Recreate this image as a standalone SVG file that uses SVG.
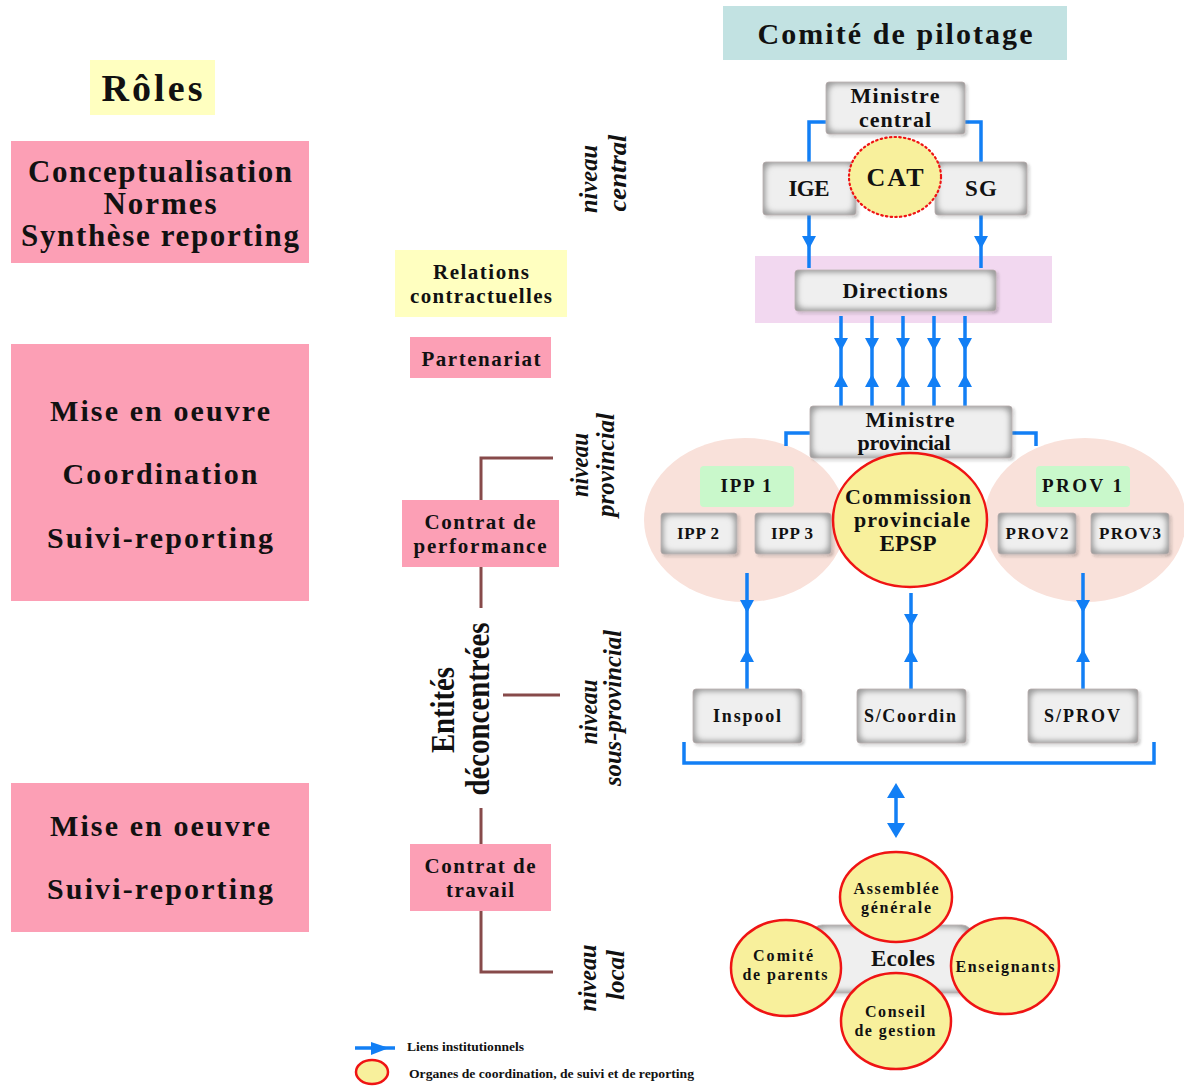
<svg xmlns="http://www.w3.org/2000/svg" xmlns:xlink="http://www.w3.org/1999/xlink" width="1184" height="1086" viewBox="0 0 1184 1086">
<defs>
<style>
text{font-family:"Liberation Serif","Times New Roman",serif;font-weight:bold;fill:#111;text-anchor:middle}
.pink{fill:#fc9fb5}
.yel{fill:#ffffc0}
.gb{fill:#9c9c9c;stroke:#b5aaaa;stroke-width:0.8;filter:url(#bev)}
.org{fill:#f8f09c;stroke:#ef1414;stroke-width:2.5}
.blue{stroke:#127ff5;stroke-width:3.5;fill:none}
.brown{stroke:#874a4a;stroke-width:3;fill:none}
.arr{fill:#127ff5}
.it{font-style:italic}
</style>
<filter id="bev" x="-20%" y="-30%" width="140%" height="160%">
<feMorphology in="SourceAlpha" operator="erode" radius="5" result="e"/>
<feGaussianBlur in="e" stdDeviation="3" result="eb"/>
<feFlood flood-color="#efefef"/>
<feComposite in2="eb" operator="in" result="light"/>
<feOffset in="SourceAlpha" dx="2" dy="2" result="so"/>
<feGaussianBlur in="so" stdDeviation="1.5" result="sb"/>
<feFlood flood-color="#000" flood-opacity="0.25"/>
<feComposite in2="sb" operator="in" result="shadow"/>
<feMerge><feMergeNode in="shadow"/><feMergeNode in="SourceGraphic"/><feMergeNode in="light"/><feMergeNode in="light"/></feMerge>
</filter>
<path id="dn" class="arr" d="M-7,-6 L7,-6 L0,7 Z"/>
<path id="up" class="arr" d="M-7,6 L7,6 L0,-7 Z"/>
</defs>

<!-- Left: roles -->
<g id="roles">
<rect class="yel" x="90" y="60" width="125" height="55"/>
<text x="152" y="101" font-size="38" textLength="101">Rôles</text>
</g>
<g id="role1">
<rect class="pink" x="11" y="141" width="298" height="122"/>
<text x="160" y="182" font-size="31" textLength="264">Conceptualisation</text>
<text x="160" y="214" font-size="31" textLength="113">Normes</text>
<text x="160" y="246" font-size="31" textLength="278">Synthèse reporting</text>
</g>
<g id="role2">
<rect class="pink" x="11" y="344" width="298" height="257"/>
<text x="160" y="421" font-size="30" textLength="220">Mise en oeuvre</text>
<text x="160" y="484" font-size="30" textLength="195">Coordination</text>
<text x="160" y="548" font-size="30" textLength="226">Suivi-reporting</text>
</g>
<g id="role3">
<rect class="pink" x="11" y="783" width="298" height="149"/>
<text x="160" y="836" font-size="30" textLength="220">Mise en oeuvre</text>
<text x="160" y="899" font-size="30" textLength="226">Suivi-reporting</text>
</g>

<!-- Middle column -->
<g id="relations">
<rect class="yel" x="395" y="250" width="172" height="67"/>
<text x="481" y="279" font-size="21" textLength="96">Relations</text>
<text x="481" y="303" font-size="21" textLength="142">contractuelles</text>
</g>
<g id="partenariat">
<rect class="pink" x="410" y="337" width="141" height="41"/>
<text x="481" y="366" font-size="21" textLength="119">Partenariat</text>
</g>

<g id="brackets">
<path class="brown" d="M553,458 H481 V500 M481,567 V608 M503,695 H560 M481,808 V844 M481,911 V972 H553"/>
</g>
<g id="contrat-performance">
<rect class="pink" x="402" y="500" width="157" height="67"/>
<text x="480" y="529" font-size="21" textLength="111">Contrat de</text>
<text x="480" y="553" font-size="21" textLength="133">performance</text>
</g>
<g id="contrat-travail">
<rect class="pink" x="410" y="844" width="141" height="67"/>
<text x="480" y="873" font-size="21" textLength="111">Contrat de</text>
<text x="480" y="897" font-size="21" textLength="68">travail</text>
</g>
<g id="entites">
<text transform="translate(454,710) rotate(-90)" font-size="33" textLength="86" lengthAdjust="spacingAndGlyphs">Entités</text>
<text transform="translate(489,709) rotate(-90)" font-size="33" textLength="173" lengthAdjust="spacingAndGlyphs">déconcentrées</text>
</g>

<g id="niveaux">
<text class="it" transform="translate(597,179) rotate(-90)" font-size="26" textLength="68" lengthAdjust="spacingAndGlyphs">niveau</text>
<text class="it" transform="translate(626,173) rotate(-90)" font-size="26" textLength="77" lengthAdjust="spacingAndGlyphs">central</text>
<text class="it" transform="translate(588,465) rotate(-90)" font-size="26" textLength="64" lengthAdjust="spacingAndGlyphs">niveau</text>
<text class="it" transform="translate(614,465) rotate(-90)" font-size="26" textLength="104" lengthAdjust="spacingAndGlyphs">provincial</text>
<text class="it" transform="translate(597,712) rotate(-90)" font-size="26" textLength="65" lengthAdjust="spacingAndGlyphs">niveau</text>
<text class="it" transform="translate(621,708) rotate(-90)" font-size="26" textLength="156" lengthAdjust="spacingAndGlyphs">sous-provincial</text>
<text class="it" transform="translate(596,978) rotate(-90)" font-size="26" textLength="67" lengthAdjust="spacingAndGlyphs">niveau</text>
<text class="it" transform="translate(624,975) rotate(-90)" font-size="26" textLength="50" lengthAdjust="spacingAndGlyphs">local</text>
</g>

<!-- Right side -->
<g id="comite-pilotage">
<rect x="723" y="6" width="344" height="54" fill="#c2e2e2"/>
<text x="895" y="44" font-size="30" textLength="275">Comité de pilotage</text>
</g>

<g id="band">
<rect x="755" y="256" width="297" height="67" fill="#f2d8f0"/>
</g>
<g id="ellipses">
<ellipse cx="745" cy="520" rx="101" ry="82" fill="#f9e1da"/>
<ellipse cx="1085" cy="520" rx="101" ry="82" fill="#f9e1da"/>
</g>

<g id="connectors">
<path class="blue" d="M826,122 H809 V162 M965,122 H981 V162"/>
<path class="blue" d="M809,215 V268 M981,215 V268"/>
<use xlink:href="#dn" x="809" y="242"/>
<use xlink:href="#dn" x="981" y="242"/>
<path class="blue" d="M841,316 V406 M872,316 V406 M903,316 V406 M934,316 V406 M965,316 V406"/>
<use xlink:href="#dn" x="841" y="344"/><use xlink:href="#dn" x="872" y="344"/><use xlink:href="#dn" x="903" y="344"/><use xlink:href="#dn" x="934" y="344"/><use xlink:href="#dn" x="965" y="344"/>
<use xlink:href="#up" x="841" y="381"/><use xlink:href="#up" x="872" y="381"/><use xlink:href="#up" x="903" y="381"/><use xlink:href="#up" x="934" y="381"/><use xlink:href="#up" x="965" y="381"/>
<path class="blue" d="M810,433 H786 V446 M1012,433 H1036 V446"/>
<path class="blue" d="M747,573 V689 M911,593 V689 M1083,573 V689"/>
<use xlink:href="#dn" x="747" y="606"/><use xlink:href="#dn" x="911" y="620"/><use xlink:href="#dn" x="1083" y="606"/>
<use xlink:href="#up" x="747" y="656"/><use xlink:href="#up" x="911" y="656"/><use xlink:href="#up" x="1083" y="656"/>
<path class="blue" d="M684,742 V763 H1154 V742"/>
<path class="blue" d="M896,792 V828"/>
<path class="arr" d="M887,798 L905,798 L896,783 Z"/>
<path class="arr" d="M887,823 L905,823 L896,838 Z"/>
</g>

<g id="ministre-central">
<rect class="gb" x="826" y="82" width="139" height="52" rx="3"/>
<text x="895" y="103" font-size="22" textLength="89">Ministre</text>
<text x="895" y="127" font-size="22" textLength="72">central</text>
</g>
<g id="ige">
<rect class="gb" x="763" y="162" width="93" height="53" rx="3"/>
<text x="809" y="196" font-size="23" textLength="41">IGE</text>
</g>
<g id="sg">
<rect class="gb" x="935" y="162" width="92" height="53" rx="3"/>
<text x="981" y="196" font-size="23" textLength="32">SG</text>
</g>
<g id="cat">
<ellipse cx="895" cy="177" rx="46" ry="40" fill="#f8f09c" stroke="#ef1414" stroke-width="2.2" stroke-dasharray="1.5 3.2" stroke-linecap="round"/>
<text x="895" y="186" font-size="26" textLength="57">CAT</text>
</g>
<g id="directions">
<rect class="gb" x="795" y="270" width="201" height="41" rx="3"/>
<text x="895" y="298" font-size="22" textLength="105">Directions</text>
</g>
<g id="ministre-provincial">
<rect class="gb" x="810" y="406" width="202" height="52" rx="3"/>
<text x="910" y="427" font-size="22" textLength="89">Ministre</text>
<text x="904" y="450" font-size="22" textLength="93">provincial</text>
</g>
<g id="ipp1">
<rect x="700" y="466" width="94" height="41" rx="4" fill="#c9f8cb"/>
<text x="746" y="492" font-size="19" textLength="51">IPP 1</text>
</g>
<g id="ipp2">
<rect class="gb" x="661" y="513" width="76" height="41" rx="3"/>
<text x="698" y="539" font-size="17" textLength="42">IPP 2</text>
</g>
<g id="ipp3">
<rect class="gb" x="755" y="513" width="76" height="41" rx="3"/>
<text x="792" y="539" font-size="17" textLength="42">IPP 3</text>
</g>
<g id="prov1">
<rect x="1036" y="466" width="94" height="41" rx="4" fill="#c9f8cb"/>
<text x="1082" y="492" font-size="19" textLength="80">PROV 1</text>
</g>
<g id="prov2">
<rect class="gb" x="998" y="513" width="78" height="41" rx="3"/>
<text x="1037" y="539" font-size="17" textLength="63">PROV2</text>
</g>
<g id="prov3">
<rect class="gb" x="1091" y="513" width="78" height="41" rx="3"/>
<text x="1130" y="539" font-size="17" textLength="62">PROV3</text>
</g>
<g id="commission">
<ellipse class="org" cx="910" cy="520" rx="77" ry="67"/>
<text x="908" y="504" font-size="22" textLength="126">Commission</text>
<text x="912" y="527" font-size="22" textLength="116">provinciale</text>
<text x="908" y="551" font-size="23" textLength="57">EPSP</text>
</g>
<g id="inspool">
<rect class="gb" x="693" y="689" width="109" height="54" rx="3"/>
<text x="747" y="722" font-size="18" textLength="68">Inspool</text>
</g>
<g id="scoordin">
<rect class="gb" x="857" y="689" width="109" height="54" rx="3"/>
<text x="910" y="722" font-size="18" textLength="92">S/Coordin</text>
</g>
<g id="sprov">
<rect class="gb" x="1028" y="689" width="110" height="54" rx="3"/>
<text x="1082" y="722" font-size="18" textLength="76">S/PROV</text>
</g>

<g id="ecoles">
<rect class="gb" x="812" y="925" width="160" height="68" rx="10"/>
<text x="903" y="966" font-size="23" textLength="64">Ecoles</text>
</g>
<g id="assemblee">
<ellipse class="org" cx="896" cy="897" rx="56" ry="45"/>
<text x="896" y="894" font-size="16" textLength="85">Assemblée</text>
<text x="896" y="913" font-size="16" textLength="70">générale</text>
</g>
<g id="comite-parents">
<ellipse class="org" cx="786" cy="968" rx="55" ry="48"/>
<text x="783" y="961" font-size="16" textLength="60">Comité</text>
<text x="785" y="980" font-size="16" textLength="85">de parents</text>
</g>
<g id="enseignants">
<ellipse class="org" cx="1005" cy="966" rx="54" ry="48"/>
<text x="1005" y="972" font-size="16" textLength="99">Enseignants</text>
</g>
<g id="conseil">
<ellipse class="org" cx="896" cy="1021" rx="55" ry="48"/>
<text x="895" y="1017" font-size="16" textLength="60">Conseil</text>
<text x="895" y="1036" font-size="16" textLength="81">de gestion</text>
</g>

<g id="legend">
<path class="blue" d="M355,1048 H395" stroke-width="3"/>
<path class="arr" d="M371,1042 L389,1048 L371,1055 Z"/>
<text x="407" y="1051" font-size="12" textLength="117" lengthAdjust="spacingAndGlyphs" style="text-anchor:start">Liens institutionnels</text>
<ellipse cx="372" cy="1072" rx="16" ry="12" fill="#f8f09c" stroke="#ef1414" stroke-width="2.5"/>
<text x="409" y="1078" font-size="12" textLength="285" lengthAdjust="spacingAndGlyphs" style="text-anchor:start">Organes de coordination, de suivi et de reporting</text>
</g>
</svg>
